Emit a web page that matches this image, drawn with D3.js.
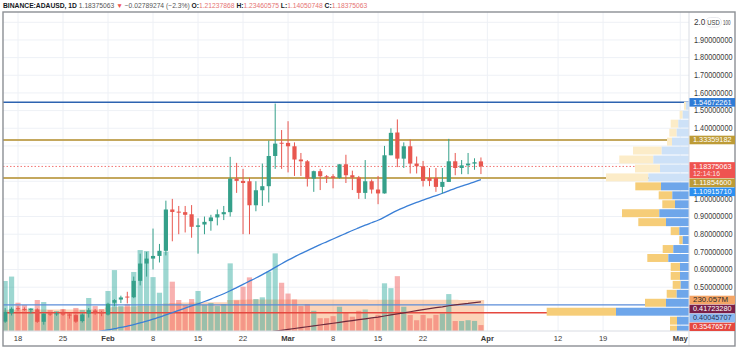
<!DOCTYPE html>
<html><head><meta charset="utf-8">
<script src="https://cdn.jsdelivr.net/npm/d3@7"></script>
<style>
body{margin:0;background:#fff;}
svg{display:block;font-family:"Liberation Sans","Arial",sans-serif;}
</style>
</head><body>
<svg id="c" width="736" height="351"></svg>
<script>
// ---------- DATA ----------
const dates = [
"2021-01-16","2021-01-17","2021-01-18","2021-01-19","2021-01-20","2021-01-21","2021-01-22","2021-01-23","2021-01-24","2021-01-25","2021-01-26","2021-01-27","2021-01-28","2021-01-29","2021-01-30","2021-01-31",
"2021-02-01","2021-02-02","2021-02-03","2021-02-04","2021-02-05","2021-02-06","2021-02-07","2021-02-08","2021-02-09","2021-02-10","2021-02-11","2021-02-12","2021-02-13","2021-02-14","2021-02-15","2021-02-16","2021-02-17","2021-02-18","2021-02-19","2021-02-20","2021-02-21","2021-02-22","2021-02-23","2021-02-24","2021-02-25","2021-02-26","2021-02-27","2021-02-28",
"2021-03-01","2021-03-02","2021-03-03","2021-03-04","2021-03-05","2021-03-06","2021-03-07","2021-03-08","2021-03-09","2021-03-10","2021-03-11","2021-03-12","2021-03-13","2021-03-14","2021-03-15","2021-03-16","2021-03-17","2021-03-18","2021-03-19","2021-03-20","2021-03-21","2021-03-22","2021-03-23","2021-03-24","2021-03-25","2021-03-26","2021-03-27","2021-03-28","2021-03-29","2021-03-30","2021-03-31"];
const opens = [0.305,0.352,0.381,0.377,0.372,0.374,0.304,0.351,0.347,0.356,0.345,0.342,0.308,0.350,0.368,0.358,
0.345,0.412,0.430,0.447,0.443,0.536,0.634,0.662,0.677,0.706,0.940,0.928,0.925,0.913,0.842,0.855,0.874,0.895,0.913,0.925,1.115,1.102,1.100,0.964,1.049,1.072,1.243,1.318,
1.317,1.298,1.223,1.213,1.115,1.157,1.128,1.128,1.119,1.196,1.134,1.121,1.034,1.100,1.053,1.031,1.247,1.376,1.228,1.298,1.200,1.185,1.119,1.119,1.068,1.096,1.213,1.175,1.190,1.200,1.21237868];
const highs = [0.382,0.386,0.392,0.386,0.381,0.380,0.352,0.360,0.360,0.374,0.352,0.346,0.352,0.382,0.376,0.366,
0.412,0.432,0.452,0.474,0.560,0.690,0.700,0.832,0.745,0.990,1.000,0.960,0.960,0.965,0.890,0.900,0.910,0.940,0.960,1.238,1.204,1.170,1.120,1.100,1.200,1.330,1.540,1.390,
1.440,1.320,1.260,1.220,1.160,1.170,1.135,1.140,1.196,1.250,1.160,1.130,1.220,1.110,1.130,1.300,1.400,1.450,1.320,1.336,1.240,1.215,1.175,1.175,1.175,1.340,1.260,1.220,1.260,1.230,1.23460575];
const lows = [0.298,0.340,0.366,0.366,0.352,0.298,0.288,0.338,0.338,0.338,0.322,0.298,0.300,0.328,0.344,0.336,
0.340,0.392,0.410,0.408,0.438,0.510,0.560,0.600,0.640,0.680,0.760,0.800,0.810,0.780,0.690,0.800,0.820,0.850,0.880,0.900,1.034,0.800,0.800,0.930,0.960,0.980,1.170,1.170,
1.150,1.130,1.130,1.070,1.040,1.050,1.090,1.060,1.115,1.090,1.050,1.000,1.000,1.030,0.970,1.030,1.247,1.180,1.175,1.144,1.144,1.070,1.072,1.040,1.030,1.096,1.134,1.140,1.140,1.165,1.14050748];
const closes = [0.360,0.378,0.376,0.374,0.377,0.304,0.350,0.347,0.352,0.345,0.342,0.305,0.345,0.370,0.358,0.352,
0.406,0.427,0.442,0.443,0.536,0.634,0.662,0.677,0.706,0.940,0.926,0.922,0.910,0.842,0.850,0.870,0.895,0.913,0.925,1.115,1.102,1.090,0.964,1.049,1.072,1.243,1.313,1.314,
1.298,1.223,1.213,1.115,1.157,1.128,1.125,1.119,1.196,1.134,1.121,1.034,1.100,1.053,1.031,1.247,1.374,1.228,1.298,1.200,1.185,1.102,1.102,1.068,1.096,1.213,1.175,1.190,1.200,1.2075,1.18375063];
// volume, millions
const volumes = [371,404,210,193,171,230,215,156,148,163,141,171,156,245,185,163,
297,452,185,200,438,601,593,400,284,588,366,230,193,237,297,193,208,185,200,502,228,329,398,237,250,441,576,358,
278,234,185,200,150,95,95,110,180,136,106,150,160,94,120,354,318,407,180,119,80,119,94,120,130,274,74,74,80,75,44];
// volume moving average, millions
const volMA = [158,158,159,159,160,160,160,160,160,160,160,160,160,160,160,160,
175,178,180,180,182,185,186,186,186,205,208,210,211,212,212,213,213,213,214,230,231,232,233,233,233,234,234,234,
234,234,234,234,233,233,233,233,233,233,233,233,233,232,232,232,232,232,232,232,231,231,231,231,231,231,231,230,230,230,230.057];
// 50-day moving average of price
const ma50 = [null,null,null,null,null,null,null,null,null,null,null,null,null,null,0.245,0.252,
0.258,0.265,0.272,0.280,0.288,0.298,0.308,0.319,0.330,0.343,0.356,0.369,0.382,0.394,0.406,0.419,0.433,0.448,0.463,0.480,0.498,0.516,0.534,0.552,0.571,0.591,0.612,0.633,
0.653,0.672,0.690,0.707,0.724,0.741,0.757,0.773,0.789,0.805,0.821,0.836,0.851,0.865,0.879,0.897,0.917,0.935,0.951,0.966,0.980,0.993,1.006,1.019,1.032,1.046,1.060,1.072,1.084,1.097,1.1091571];
// 200-day moving average of price
const ma200 = [null,null,null,null,null,null,null,null,null,null,null,null,null,null,null,null,
null,null,null,null,null,null,null,null,null,null,null,null,null,null,null,null,null,null,null,null,null,null,null,null,0.241,0.246,0.251,0.256,
0.261,0.266,0.271,0.276,0.281,0.286,0.291,0.296,0.301,0.306,0.311,0.316,0.321,0.326,0.331,0.337,0.343,0.349,0.355,0.361,0.367,0.373,0.379,0.384,0.389,0.395,0.400,0.404,0.408,0.413,0.4172328];
// horizontal levels
const levelBlueTop = 1.54672261, levelGoldHigh = 1.33359182, levelGoldLow = 1.11854600;
const levelBlueLow = 0.40045707, levelRedLow = 0.35476577;
const lastPrice = 1.18375063, countdown = "12:14:16";
// price axis ticks
const priceTicks = [1.9,1.8,1.7,1.6,1.5,1.4,1.3,1.2,1.1,1.0,0.9,0.8,0.7,0.6,0.5];
// time axis ticks
const timeTicks = ["2021-01-18","2021-01-25","2021-02-01","2021-02-08","2021-02-15","2021-02-22","2021-03-01","2021-03-08","2021-03-15","2021-03-22","2021-04-01","2021-04-12","2021-04-19","2021-05-01"];
const timeTickLabels = ["18","25","Feb","8","15","22","Mar","8","15","22","Apr","12","19","May"];
// volume profile (visible range): row price bounds, down (yellow) and up (blue) volume
const vpTop =    [1.5527,1.502,1.4513,1.4006,1.3499,1.2992,1.2485,1.1978,1.1471,1.0964,1.0457,0.995,0.9443,0.8936,0.8429,0.7922,0.7415,0.6908,0.6401,0.5894,0.5387,0.488,0.4373,0.3866,0.3359,0.2852];
const vpBottom = [1.502,1.4513,1.4006,1.3499,1.2992,1.2485,1.1978,1.1471,1.0964,1.0457,0.995,0.9443,0.8936,0.8429,0.7922,0.7415,0.6908,0.6401,0.5894,0.5387,0.488,0.4373,0.3866,0.3359,0.2852,0.2345];
const vpDown = [20,30,76,74,50,287,340,250,423,257,136,127,373,277,86,34,106,210,93,93,80,100,210,693,70,70];
const vpUp =   [30,63,107,123,170,273,357,290,407,280,167,140,297,230,97,63,157,207,90,90,83,123,230,730,120,120];
const vpInValueArea = [0,0,0,0,0,0,0,0,0,1,1,1,1,1,1,1,1,1,1,1,1,1,1,1,1,1];

// ---------- CHART ----------
const svg = d3.select("#c");
const parse = d3.utcParse("%Y-%m-%d");
const L = 3, R = 689, T = 12, B = 331;
const x = d3.scaleUtc()
  .domain([new Date(Date.UTC(2021,0,15,16)), new Date(Date.UTC(2021,4,2,8,38))])
  .range([L, R]);
const y = d3.scaleLinear().domain([0.5, 2.0]).range([287.2, 22.3]);
const yv = d3.scaleLinear().domain([0, 230.057]).range([B, 300]);
const vpX = d3.scaleLinear().domain([0, 1000]).range([0, 100]);

const data = dates.map((d,i)=>({d:parse(d),o:opens[i],h:highs[i],l:lows[i],c:closes[i],v:volumes[i],ma:volMA[i],m50:ma50[i],m200:ma200[i]}));
const dayW = x(parse("2021-01-19")) - x(parse("2021-01-18"));

const UP = "#35a08a", DN = "#e8574f";
const LBL_W = 38.5;

svg.append("rect").attr("width",736).attr("height",351).attr("fill","#fff");
const defs = svg.append("defs");
defs.append("clipPath").attr("id","pane").append("rect").attr("x",L).attr("y",T).attr("width",R-L).attr("height",B-T);
defs.append("clipPath").attr("id","paxis").append("rect").attr("x",R).attr("y",T).attr("width",736-R).attr("height",B-T);

const pane = svg.append("g").attr("clip-path","url(#pane)");

// grid
pane.append("g").selectAll("line").data(timeTicks).join("line")
  .attr("x1",d=>x(parse(d))).attr("x2",d=>x(parse(d))).attr("y1",T).attr("y2",B)
  .attr("stroke","#eef1f6").attr("stroke-width",1);
pane.append("g").selectAll("line").data(priceTicks.concat([2.0])).join("line")
  .attr("x1",L).attr("x2",R).attr("y1",d=>y(d)).attr("y2",d=>y(d))
  .attr("stroke","#eef1f6").attr("stroke-width",1);

// volume MA area (step)
const maPts = [];
data.forEach(p=>{ maPts.push([x(p.d)-dayW/2, p.ma]); maPts.push([x(p.d)+dayW/2, p.ma]); });
pane.append("path").datum(maPts)
  .attr("d", d3.area().x(p=>p[0]).y0(yv(0)).y1(p=>yv(p[1])))
  .attr("fill","rgba(245,124,40,0.33)");

// volume bars
pane.append("g").selectAll("rect").data(data).join("rect")
  .attr("x",p=>x(p.d)-2.6).attr("width",5.2)
  .attr("y",p=>yv(p.v)).attr("height",p=>yv(0)-yv(p.v))
  .attr("fill",p=>p.c>=p.o?"rgba(38,166,154,0.45)":"rgba(239,83,80,0.45)");

// volume profile
const vpG = svg.append("g").attr("clip-path","url(#pane)");
vpTop.forEach((t,i)=>{
  const y0 = y(t)+0.5, h = y(vpBottom[i]) - y(t) - 1;
  const bw = vpX(vpUp[i]), yw = vpX(vpDown[i]);
  const va = vpInValueArea[i];
  vpG.append("rect").attr("x",R-bw-yw).attr("y",y0).attr("width",yw).attr("height",h)
    .attr("fill", va ? "#f6cd78" : "#fcecc8");
  vpG.append("rect").attr("x",R-bw).attr("y",y0).attr("width",bw).attr("height",h)
    .attr("fill", va ? "#6ea6ea" : "#cde1f7");
});

// horizontal levels
const hl = (v,col,w,dash)=>pane.append("line").attr("x1",L).attr("x2",R).attr("y1",y(v)).attr("y2",y(v))
  .attr("stroke",col).attr("stroke-width",w).attr("stroke-dasharray",dash||null);
hl(levelBlueTop,"#2d63b0",1.5);
hl(levelGoldHigh,"#c4a85e",2);
hl(levelGoldLow,"#c4a85e",2);
hl(lastPrice,"#ef5350",0.8,"1.5,2");
hl(levelBlueLow,"#5b8dd9",1.2);
hl(levelRedLow,"#e5483f",1.5);

// moving averages
pane.append("path").datum(data)
  .attr("d", d3.line().defined(p=>p.m200!=null).x(p=>x(p.d)).y(p=>y(p.m200)))
  .attr("fill","none").attr("stroke","#6e2a3c").attr("stroke-width",1.2);
pane.append("path").datum(data)
  .attr("d", d3.line().defined(p=>p.m50!=null).x(p=>x(p.d)).y(p=>y(p.m50)).curve(d3.curveMonotoneX))
  .attr("fill","none").attr("stroke","#3a7fd6").attr("stroke-width",1.3);

// candles
const cg = pane.append("g");
cg.selectAll("line").data(data).join("line")
  .attr("x1",p=>x(p.d)).attr("x2",p=>x(p.d)).attr("y1",p=>y(p.h)).attr("y2",p=>y(p.l))
  .attr("stroke",p=>p.c>=p.o?UP:DN).attr("stroke-width",1);
cg.selectAll("rect").data(data).join("rect")
  .attr("x",p=>x(p.d)-2.1).attr("width",4.2)
  .attr("y",p=>y(Math.max(p.o,p.c)))
  .attr("height",p=>Math.max(1,Math.abs(y(p.o)-y(p.c))))
  .attr("fill",p=>p.c>=p.o?UP:DN);

// frame & separators
svg.append("line").attr("x1",R).attr("x2",R).attr("y1",T).attr("y2",346).attr("stroke","#d9dce3").attr("stroke-width",1);
svg.append("line").attr("x1",L).attr("x2",735).attr("y1",B).attr("y2",B).attr("stroke","#d9dce3").attr("stroke-width",1);
svg.append("rect").attr("x",L).attr("y",T).attr("width",735-L).attr("height",346-T)
  .attr("fill","none").attr("stroke","#8c8f94").attr("stroke-width",1.4);

// colored price labels: layout with overlap resolution
const labs = [
  {v:y(levelBlueTop), t:[d3.format(".8f")(levelBlueTop)], bg:"#2e7bd6", fg:"#fff"},
  {v:y(levelGoldHigh), t:[d3.format(".8f")(levelGoldHigh)], bg:"#bd9b36", fg:"#fff"},
  {v:y(lastPrice), t:[d3.format(".8f")(lastPrice), countdown], bg:"#ef5350", fg:"#fff"},
  {v:y(levelGoldLow), t:[d3.format(".8f")(levelGoldLow)], bg:"#bd9b36", fg:"#fff"},
  {v:y(ma50[ma50.length-1]), t:[d3.format(".8f")(ma50[ma50.length-1])], bg:"#2b8ff0", fg:"#fff"},
  {v:yv(volMA[volMA.length-1]), t:[d3.format(".3f")(volMA[volMA.length-1])+"M"], bg:"#f4a566", fg:"#2a2a2a"},
  {v:y(ma200[ma200.length-1]), t:[d3.format(".8f")(ma200[ma200.length-1])], bg:"#7a1f48", fg:"#fff"},
  {v:y(levelBlueLow), t:[d3.format(".8f")(levelBlueLow)], bg:"#8db9f0", fg:"#1c2f55"},
  {v:y(levelRedLow), t:[d3.format(".8f")(levelRedLow)], bg:"#e5483f", fg:"#fff"}
];
labs.sort((a,b)=>a.v-b.v);
let prevBottom = -1e9;
labs.forEach(l=>{
  l.h = l.t.length===2 ? 16 : 8.6;
  let top = l.v - 4.3;
  if (top < prevBottom + 0.4) top = prevBottom + 0.4;
  l.top = top;
  prevBottom = top + l.h;
});

// price axis tick labels (ticks hidden under a colored label are not drawn, as on the chart)
const pa = svg.append("g").attr("clip-path","url(#paxis)");
const covered = v => labs.some(l => {
  const a = Math.max(y(v)-3.5, l.top), b = Math.min(y(v)+3.5, l.top+l.h);
  return b - a > 1.5;
});
pa.selectAll("text.t").data(priceTicks.filter(v=>!covered(v))).join("text")
  .attr("x",694).attr("y",d=>y(d)).attr("dy","0.35em")
  .attr("font-size",8.2).attr("fill","#3a3a3a")
  .attr("textLength",LBL_W).attr("lengthAdjust","spacingAndGlyphs")
  .text(d=>d3.format(".8f")(d));
// top tick with USD currency badge
pa.append("text").attr("x",694).attr("y",y(2.0)).attr("dy","0.35em")
  .attr("font-size",8.2).attr("fill","#3a3a3a").text("2.0");
pa.append("rect").attr("x",705.5).attr("y",y(2.0)-4.8).attr("width",16).attr("height",9.6).attr("rx",4.8)
  .attr("fill","#fff").attr("stroke","#e3e5ea").attr("stroke-width",0.8);
pa.append("text").attr("x",713.5).attr("y",y(2.0)).attr("dy","0.35em").attr("text-anchor","middle")
  .attr("font-size",7.6).attr("fill","#3a3a3a").attr("textLength",12.5).attr("lengthAdjust","spacingAndGlyphs").text("USD");
pa.append("text").attr("x",723).attr("y",y(2.0)).attr("dy","0.35em")
  .attr("font-size",8).attr("fill","#3a3a3a").attr("textLength",7.5).attr("lengthAdjust","spacingAndGlyphs").text("100");

labs.forEach(l=>{
  pa.append("rect").attr("x",R+0.5).attr("y",l.top).attr("width",735-R-0.5).attr("height",l.h).attr("fill",l.bg);
  l.t.forEach((s,k)=>{
    const tx = pa.append("text").attr("x",693).attr("y",l.top+(k?12:4.1)).attr("dy","0.35em")
      .attr("font-size",k?6.6:7.6).attr("fill",l.fg).attr("fill-opacity",k?0.85:1).text(s);
    if (s.length>=10) tx.attr("textLength",LBL_W).attr("lengthAdjust","spacingAndGlyphs");
    else if (s.length>=8) tx.attr("textLength",k?27:35).attr("lengthAdjust","spacingAndGlyphs");
  });
});

// time axis labels
svg.append("g").selectAll("text").data(timeTicks).join("text")
  .attr("x",d=>x(parse(d))).attr("y",338.5).attr("dy","0.35em").attr("text-anchor","middle")
  .attr("font-size",7.6).attr("fill","#3a3a3a")
  .attr("font-weight",(d,i)=>/[A-Za-z]/.test(timeTickLabels[i])?"bold":"normal")
  .text((d,i)=>timeTickLabels[i]);

// header
const hd = svg.append("text").attr("x",3).attr("y",8.3).attr("font-size",8);
const parts = [
  ["BINANCE:ADAUSD, 1D ","#131722","bold"],
  [d3.format(".8f")(lastPrice)+" ","#555","normal"],
  ["▼","#ef5350","normal"],
  [" −0.02789274 (−2.3%) ","#555","normal"],
  ["O:","#131722","bold"],[d3.format(".8f")(opens[opens.length-1])+" ","#e57373","normal"],
  ["H:","#131722","bold"],[d3.format(".8f")(highs[highs.length-1])+" ","#e57373","normal"],
  ["L:","#131722","bold"],[d3.format(".8f")(lows[lows.length-1])+" ","#e57373","normal"],
  ["C:","#131722","bold"],[d3.format(".8f")(closes[closes.length-1]),"#e57373","normal"]
];
parts.forEach(p=>hd.append("tspan").attr("fill",p[1]).attr("font-weight",p[2]).text(p[0]));
const hlen = hd.node().getComputedTextLength();
hd.attr("font-size", 8*365/hlen);
</script>
</body></html>
